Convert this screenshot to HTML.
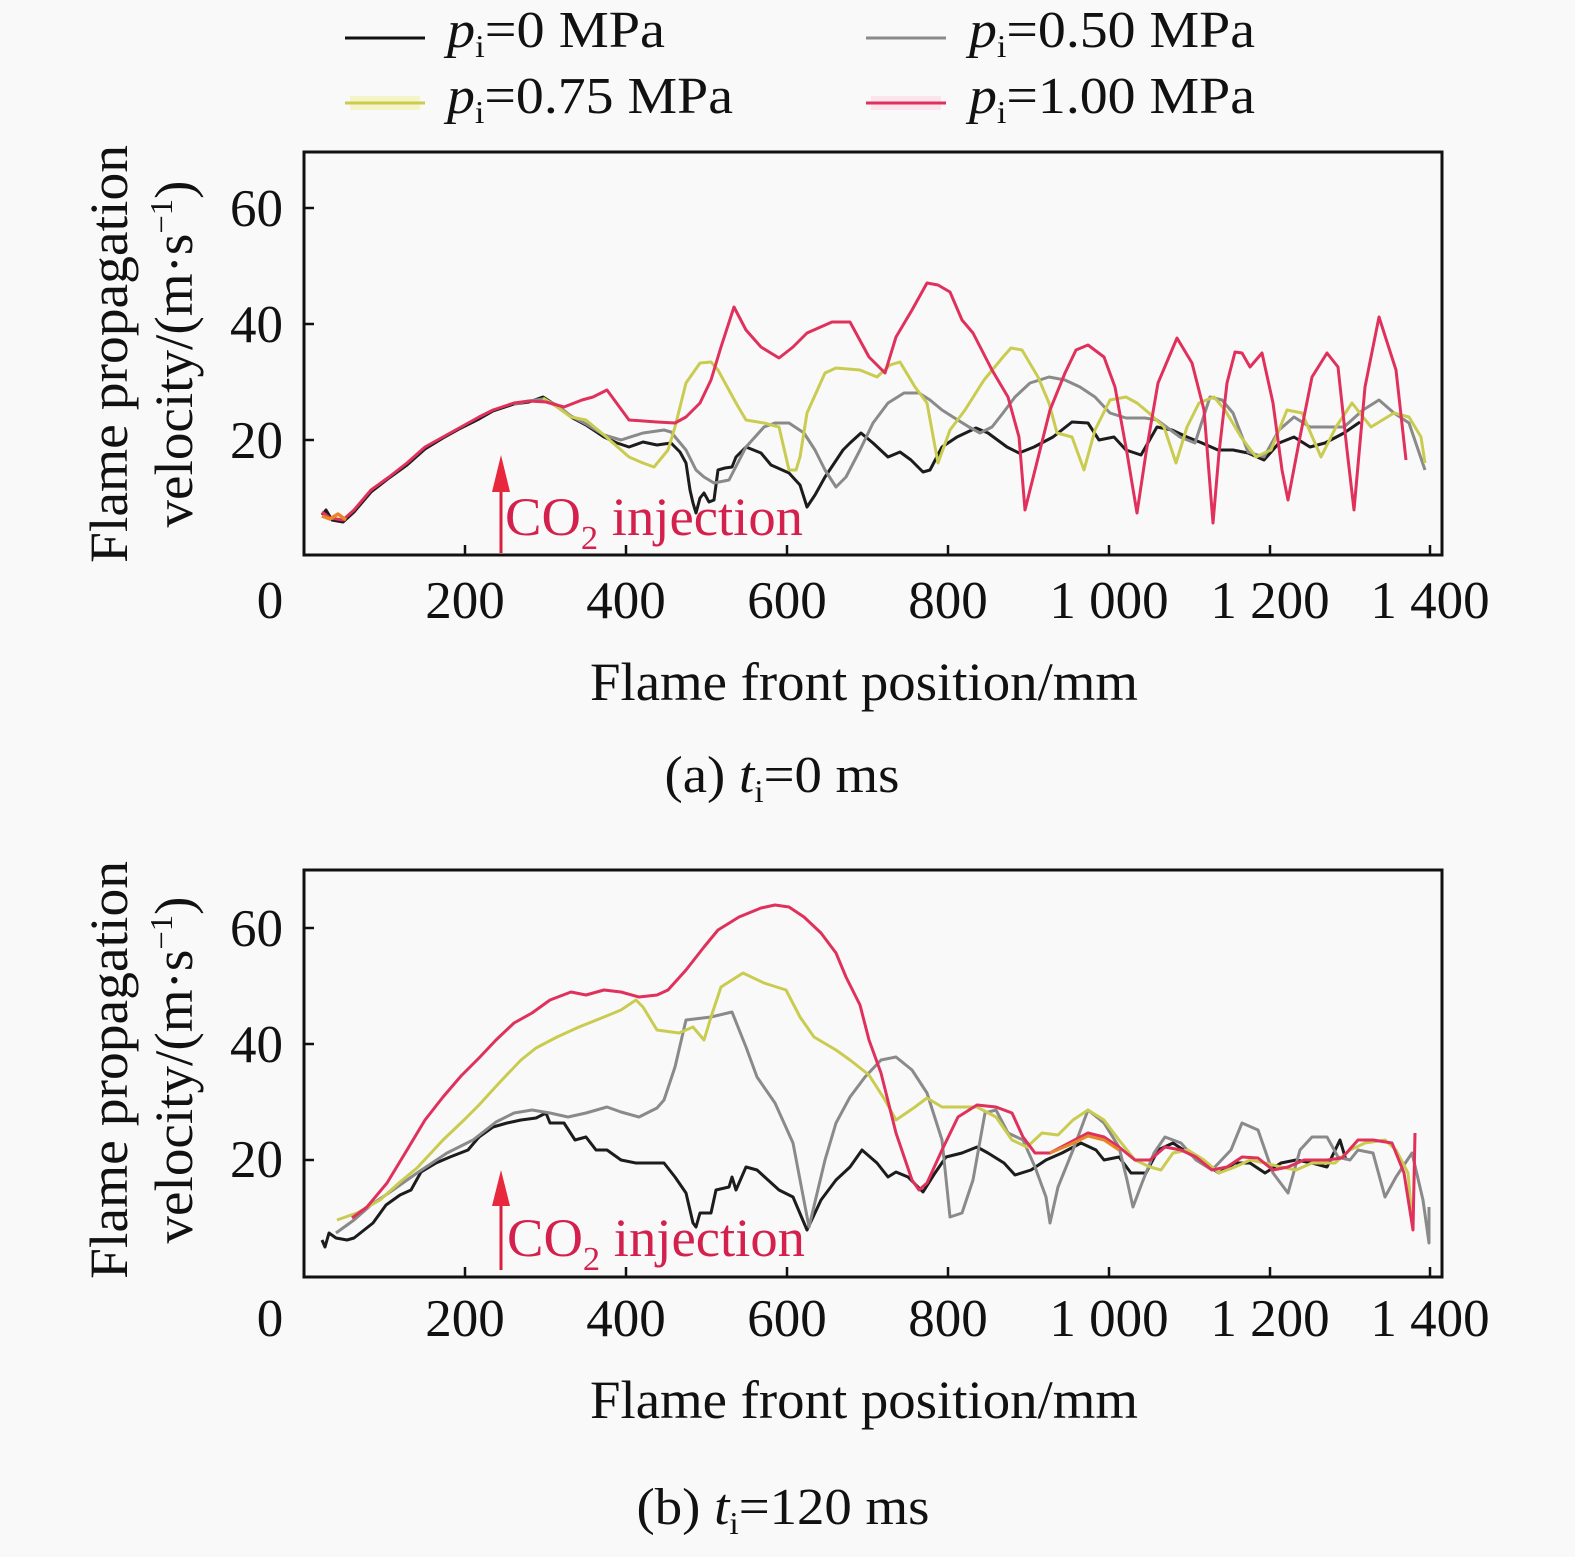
<!DOCTYPE html>
<html><head><meta charset="utf-8"><style>
html,body{margin:0;padding:0;background:#f9f9f9;}
svg{display:block;font-family:"Liberation Serif","Times New Roman",serif;}
</style></head><body>
<svg width="1575" height="1557" viewBox="0 0 1575 1557" xmlns="http://www.w3.org/2000/svg">
<rect width="1575" height="1557" fill="#f9f9f9"/>

<!-- Legend -->
<line x1="345" y1="38" x2="425" y2="38" stroke="#111" stroke-width="3"/>
<text x="447" y="47" font-size="52" textLength="218" lengthAdjust="spacingAndGlyphs" fill="#111"><tspan font-style="italic">p</tspan><tspan font-size="32" dy="10">i</tspan><tspan dy="-10">=0 MPa</tspan></text>
<line x1="866" y1="38" x2="946" y2="38" stroke="#8a8a8a" stroke-width="3"/>
<text x="969" y="47" font-size="52" textLength="286" lengthAdjust="spacingAndGlyphs" fill="#111"><tspan font-style="italic">p</tspan><tspan font-size="32" dy="10">i</tspan><tspan dy="-10">=0.50 MPa</tspan></text>
<rect x="350" y="96" width="70" height="14" fill="#f4f4c6"/>
<line x1="345" y1="103" x2="425" y2="103" stroke="#c9cc50" stroke-width="3"/>
<text x="447" y="113" font-size="52" textLength="286" lengthAdjust="spacingAndGlyphs" fill="#111"><tspan font-style="italic">p</tspan><tspan font-size="32" dy="10">i</tspan><tspan dy="-10">=0.75 MPa</tspan></text>
<rect x="871" y="96" width="70" height="14" fill="#fbe4ec"/>
<line x1="866" y1="103" x2="946" y2="103" stroke="#e0305c" stroke-width="3"/>
<text x="969" y="113" font-size="52" textLength="286" lengthAdjust="spacingAndGlyphs" fill="#111"><tspan font-style="italic">p</tspan><tspan font-size="32" dy="10">i</tspan><tspan dy="-10">=1.00 MPa</tspan></text>

<!-- ============ PLOT A ============ -->
<g fill="#111" font-size="53">
<text x="283" y="226" text-anchor="end">60</text>
<text x="283" y="342" text-anchor="end">40</text>
<text x="283" y="458" text-anchor="end">20</text>
<text x="270" y="618" text-anchor="middle">0</text>
<text x="465" y="618" text-anchor="middle">200</text>
<text x="626" y="618" text-anchor="middle">400</text>
<text x="787" y="618" text-anchor="middle">600</text>
<text x="948" y="618" text-anchor="middle">800</text>
<text x="1109" y="618" text-anchor="middle">1 000</text>
<text x="1270" y="618" text-anchor="middle">1 200</text>
<text x="1430" y="618" text-anchor="middle">1 400</text>
</g>
<text x="864" y="700" font-size="54" text-anchor="middle" textLength="548" lengthAdjust="spacingAndGlyphs" fill="#111">Flame front position/mm</text>
<text x="782" y="792" font-size="52" text-anchor="middle" textLength="235" lengthAdjust="spacingAndGlyphs" fill="#111">(a) <tspan font-style="italic">t</tspan><tspan font-size="32" dy="10">i</tspan><tspan dy="-10">=0 ms</tspan></text>
<text transform="translate(127,354) rotate(-90)" font-size="54" text-anchor="middle" textLength="418" lengthAdjust="spacingAndGlyphs" fill="#111">Flame propagation</text>
<text transform="translate(192,354) rotate(-90)" font-size="54" text-anchor="middle" textLength="347" lengthAdjust="spacingAndGlyphs" fill="#111">velocity/(m·s<tspan font-size="32" dy="-20">−1</tspan><tspan dy="20">)</tspan></text>

<g fill="none" stroke-width="3" stroke-linejoin="round">
<polyline stroke="#1c1c1c" points="322,515 326,510 332,520 343,522 354,512 371,492 389,478 407,465 425,449 443,438 461,428 479,419 493,411 514,404 529,402 543,397 557,406 571,417 586,425 604,437 617,443 629,447 643,442 657,445 671,443 680,452 686,463 690,490 693,503 696,513 700,498 704,493 709,502 714,500 718,470 725,468 732,467 736,457 746,447 761,453 771,465 789,473 800,485 807,507 815,495 825,477 843,450 850,443 861,433 873,443 888,457 900,452 911,460 923,472 930,470 942,447 957,437 976,428 988,433 1007,447 1019,453 1034,447 1053,437 1072,422 1088,423 1099,440 1114,437 1126,450 1141,455 1157,427 1172,430 1187,437 1202,443 1218,450 1233,450 1248,453 1264,460 1279,443 1294,437 1310,447 1325,443 1344,433 1360,422"/>
<polyline stroke="#8a8a8a" points="514,404 529,401 543,399 557,405 571,416 586,424 604,435 621,440 643,433 664,430 671,432 686,450 696,470 704,477 714,483 729,480 746,447 764,427 775,423 789,423 804,433 815,450 825,470 836,487 846,477 860,450 873,423 888,403 904,393 919,393 930,400 942,410 953,417 969,427 980,433 992,427 1003,413 1015,397 1030,383 1049,377 1065,380 1080,387 1095,397 1110,413 1126,418 1145,418 1157,420 1180,437 1195,443 1210,397 1222,400 1233,413 1248,452 1264,457 1279,430 1294,417 1310,427 1325,427 1344,427 1363,410 1379,400 1394,413 1409,423 1425,470"/>
<polyline stroke="#c9cc50" points="543,398 557,407 571,417 586,420 604,435 629,457 643,463 654,467 668,450 675,427 686,383 700,363 711,362 718,370 736,403 746,420 764,423 779,427 789,470 796,470 800,457 807,413 825,373 836,368 860,370 877,377 890,365 900,362 915,387 927,403 938,463 950,430 965,410 984,380 1003,357 1011,348 1022,350 1038,377 1049,403 1057,433 1072,437 1084,470 1095,430 1110,400 1126,397 1137,403 1149,413 1164,427 1176,463 1187,427 1199,403 1214,397 1225,410 1241,437 1256,457 1271,450 1287,410 1302,413 1321,457 1336,427 1352,403 1371,427 1394,413 1409,417 1421,437 1425,463"/>
<polyline stroke="#e0305c" points="322,512 330,518 343,520 354,510 371,490 389,477 407,463 425,447 443,437 461,427 479,417 493,410 514,403 529,401 546,402 564,407 582,400 593,397 607,390 618,405 629,420 657,422 675,423 686,417 700,403 711,380 721,347 734,307 746,330 761,347 779,358 793,347 807,333 832,322 850,322 869,357 885,373 896,337 912,310 927,283 938,285 950,292 962,320 973,333 992,370 1008,397 1019,437 1025,510 1035,470 1050,410 1065,373 1076,350 1088,345 1104,357 1115,387 1127,453 1137,513 1146,453 1158,383 1177,338 1192,363 1204,410 1213,523 1219,453 1227,383 1235,352 1242,353 1250,367 1262,353 1273,403 1282,470 1288,500 1300,437 1312,377 1327,353 1338,367 1347,450 1354,510 1365,387 1379,317 1396,370 1406,460"/>
<polyline stroke="#e8872a" stroke-width="3.5" points="322,516 330,519 338,514 346,520"/>
</g>

<!-- arrow A -->
<line x1="501" y1="553" x2="501" y2="488" stroke="#d8203e" stroke-width="3"/>
<polygon points="501,455 492,492 510,492" fill="#e8283c"/>
<text x="505" y="535" font-size="54" textLength="298" lengthAdjust="spacingAndGlyphs" fill="#d4204c">CO<tspan font-size="34" dy="14">2</tspan><tspan dy="-14"> injection</tspan></text>

<!-- frame A -->
<rect x="304" y="152" width="1138" height="403" fill="none" stroke="#111" stroke-width="3"/>
<g stroke="#111" stroke-width="2.5">
<line x1="304" y1="208" x2="314" y2="208"/><line x1="304" y1="324" x2="314" y2="324"/><line x1="304" y1="440" x2="314" y2="440"/>
<line x1="465" y1="555" x2="465" y2="545"/><line x1="626" y1="555" x2="626" y2="545"/><line x1="787" y1="555" x2="787" y2="545"/><line x1="948" y1="555" x2="948" y2="545"/><line x1="1109" y1="555" x2="1109" y2="545"/><line x1="1270" y1="555" x2="1270" y2="545"/><line x1="1430" y1="555" x2="1430" y2="545"/>
</g>

<!-- ============ PLOT B ============ -->
<g fill="#111" font-size="53">
<text x="283" y="946" text-anchor="end">60</text>
<text x="283" y="1062" text-anchor="end">40</text>
<text x="283" y="1177" text-anchor="end">20</text>
<text x="270" y="1336" text-anchor="middle">0</text>
<text x="465" y="1336" text-anchor="middle">200</text>
<text x="626" y="1336" text-anchor="middle">400</text>
<text x="787" y="1336" text-anchor="middle">600</text>
<text x="948" y="1336" text-anchor="middle">800</text>
<text x="1109" y="1336" text-anchor="middle">1 000</text>
<text x="1270" y="1336" text-anchor="middle">1 200</text>
<text x="1430" y="1336" text-anchor="middle">1 400</text>
</g>
<text x="864" y="1418" font-size="54" text-anchor="middle" textLength="548" lengthAdjust="spacingAndGlyphs" fill="#111">Flame front position/mm</text>
<text x="783" y="1524" font-size="52" text-anchor="middle" textLength="293" lengthAdjust="spacingAndGlyphs" fill="#111">(b) <tspan font-style="italic">t</tspan><tspan font-size="32" dy="10">i</tspan><tspan dy="-10">=120 ms</tspan></text>
<text transform="translate(127,1070) rotate(-90)" font-size="54" text-anchor="middle" textLength="418" lengthAdjust="spacingAndGlyphs" fill="#111">Flame propagation</text>
<text transform="translate(192,1070) rotate(-90)" font-size="54" text-anchor="middle" textLength="347" lengthAdjust="spacingAndGlyphs" fill="#111">velocity/(m·s<tspan font-size="32" dy="-20">−1</tspan><tspan dy="20">)</tspan></text>

<g fill="none" stroke-width="3" stroke-linejoin="round">
<polyline stroke="#1c1c1c" points="322,1240 325,1247 329,1233 336,1238 347,1240 354,1238 373,1223 386,1205 400,1195 411,1190 421,1172 436,1163 450,1157 468,1150 479,1137 493,1127 507,1123 521,1120 536,1118 546,1113 550,1123 564,1123 575,1140 586,1137 596,1150 607,1150 621,1160 636,1163 650,1163 664,1163 675,1177 686,1193 693,1223 696,1227 700,1213 711,1213 716,1190 729,1187 732,1177 736,1190 746,1167 757,1170 768,1180 779,1190 793,1197 807,1230 821,1200 836,1180 850,1167 862,1150 877,1163 888,1177 896,1172 908,1177 923,1192 935,1173 946,1157 962,1153 977,1147 988,1153 1004,1163 1015,1175 1031,1170 1046,1160 1062,1153 1081,1143 1096,1150 1104,1160 1119,1157 1131,1173 1146,1173 1158,1150 1173,1143 1188,1153 1204,1163 1219,1173 1235,1163 1250,1163 1265,1173 1281,1163 1296,1160 1312,1163 1327,1167 1340,1140 1346,1160"/>
<polyline stroke="#8a8a8a" points="336,1233 354,1220 371,1205 393,1190 417,1173 447,1153 473,1140 496,1122 514,1113 532,1110 550,1113 568,1117 586,1113 607,1107 621,1112 639,1117 657,1108 664,1100 675,1067 686,1020 711,1017 732,1012 746,1047 757,1077 775,1103 793,1143 809,1227 825,1160 836,1123 850,1097 865,1077 881,1060 896,1057 912,1070 927,1093 942,1140 950,1217 962,1213 973,1180 985,1113 996,1110 1008,1133 1023,1140 1035,1167 1046,1197 1050,1223 1058,1187 1073,1150 1088,1110 1104,1123 1119,1147 1127,1180 1133,1207 1142,1183 1154,1153 1165,1137 1181,1143 1196,1160 1212,1170 1231,1150 1242,1123 1258,1130 1273,1173 1288,1193 1300,1150 1312,1137 1327,1137 1338,1157 1350,1160 1358,1150 1373,1153 1385,1197 1396,1177 1412,1153 1423,1200 1429,1243 1429,1207"/>
<polyline stroke="#c9cc50" points="337,1220 357,1213 380,1200 400,1182 417,1168 443,1140 464,1120 479,1105 500,1082 521,1060 536,1048 557,1037 579,1027 604,1017 621,1010 636,1000 643,1007 657,1030 679,1033 693,1027 704,1040 711,1017 721,987 743,973 764,983 786,990 800,1017 814,1037 836,1050 850,1060 869,1075 885,1100 896,1120 915,1107 927,1098 942,1107 958,1107 977,1107 996,1117 1012,1140 1027,1147 1042,1133 1058,1135 1073,1120 1088,1110 1104,1120 1119,1140 1135,1160 1150,1167 1161,1170 1173,1153 1188,1150 1204,1160 1219,1173 1235,1167 1250,1160 1265,1163 1281,1167 1296,1170 1312,1163 1335,1163 1350,1150 1365,1143 1385,1140 1396,1150 1408,1173 1413,1230"/>
<polyline stroke="#e0305c" points="352,1218 367,1207 387,1183 407,1150 425,1120 443,1097 461,1076 479,1058 496,1040 514,1023 532,1013 550,1000 571,992 586,995 604,990 621,992 639,997 657,995 668,990 686,970 704,947 718,930 739,917 761,908 775,905 789,907 804,917 821,933 836,953 846,977 860,1005 869,1040 881,1073 896,1133 912,1180 919,1190 927,1183 942,1150 958,1117 977,1105 996,1107 1012,1113 1023,1137 1035,1153 1050,1153 1069,1143 1088,1133 1104,1137 1119,1147 1135,1160 1150,1160 1165,1147 1181,1150 1196,1157 1212,1170 1227,1167 1242,1157 1258,1158 1273,1170 1288,1167 1304,1160 1327,1160 1342,1158 1358,1140 1373,1140 1392,1143 1404,1173 1413,1230 1415,1133"/>
<polyline stroke="#e8872a" points="1050,1153 1069,1145 1088,1136 1104,1140 1119,1150"/>
</g>

<!-- arrow B -->
<line x1="501" y1="1270" x2="501" y2="1203" stroke="#d8203e" stroke-width="3"/>
<polygon points="501,1170 492,1206 510,1206" fill="#e8283c"/>
<text x="507" y="1256" font-size="54" textLength="298" lengthAdjust="spacingAndGlyphs" fill="#d4204c">CO<tspan font-size="34" dy="14">2</tspan><tspan dy="-14"> injection</tspan></text>

<!-- frame B -->
<rect x="304" y="870" width="1138" height="407" fill="none" stroke="#111" stroke-width="3"/>
<g stroke="#111" stroke-width="2.5">
<line x1="304" y1="928" x2="314" y2="928"/><line x1="304" y1="1044" x2="314" y2="1044"/><line x1="304" y1="1160" x2="314" y2="1160"/>
<line x1="465" y1="1277" x2="465" y2="1267"/><line x1="626" y1="1277" x2="626" y2="1267"/><line x1="787" y1="1277" x2="787" y2="1267"/><line x1="948" y1="1277" x2="948" y2="1267"/><line x1="1109" y1="1277" x2="1109" y2="1267"/><line x1="1270" y1="1277" x2="1270" y2="1267"/><line x1="1430" y1="1277" x2="1430" y2="1267"/>
</g>
</svg>
</body></html>
